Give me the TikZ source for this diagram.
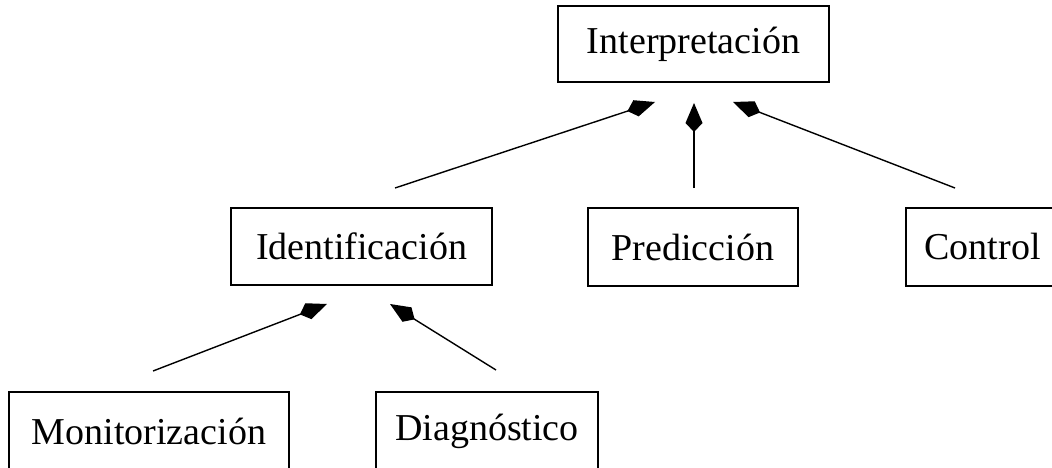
\documentclass[tikz,border=0pt]{standalone}
\usepackage{fontspec}
\setmainfont{Liberation Serif}
\usetikzlibrary{arrows.meta}
\begin{document}
\begin{tikzpicture}[x=1pt,y=-1pt,
  box/.style={draw,line width=1.2pt,rectangle,inner sep=0pt,
    font=\fontsize{38}{44}\selectfont},
  part/.style={line width=1.4pt,
    -{Kite[length=29pt,width=17pt,inset=9pt]}}]
\useasboundingbox (0,0) rectangle (1052,468);
\fill[white] (0,0) rectangle (1052,468);
\clip (0,0) rectangle (1052,468);

% class boxes
\node[box,minimum width=271pt,minimum height=76pt] (interp) at (693.5,44) {Interpretación};
\node[box,minimum width=261pt,minimum height=77pt] (ident) at (361.5,246.5) {Identificación};
\node[box,minimum width=210pt,minimum height=78pt] (pred) at (693,247) {Predicción};
\node[box,minimum width=153pt,minimum height=78pt] (ctrl) at (982.5,247) {Control};
\node[box,minimum width=280pt,minimum height=78pt] (monit) at (149,431) {Monitorización};
\node[box,minimum width=222pt,minimum height=78pt] (diag) at (487,431) {Diagnóstico};

% connector end points (lines stop short of the boxes)
\coordinate (identUp) at (395,188);
\coordinate (predUp) at (694,188);
\coordinate (ctrlUp) at (955,188);
\coordinate (interpL) at (655,102);
\coordinate (interpM) at (694,103);
\coordinate (interpR) at (733,102);
\coordinate (monitUp) at (153,371);
\coordinate (diagUp) at (496,370);
\coordinate (identL) at (327,304);
\coordinate (identR) at (390,304);

% aggregation links
\draw[part] (identUp) -- (interpL);
\draw[part] (predUp) -- (interpM);
\draw[part] (ctrlUp) -- (interpR);
\draw[part] (monitUp) -- (identL);
\draw[part] (diagUp) -- (identR);
\end{tikzpicture}
\end{document}
